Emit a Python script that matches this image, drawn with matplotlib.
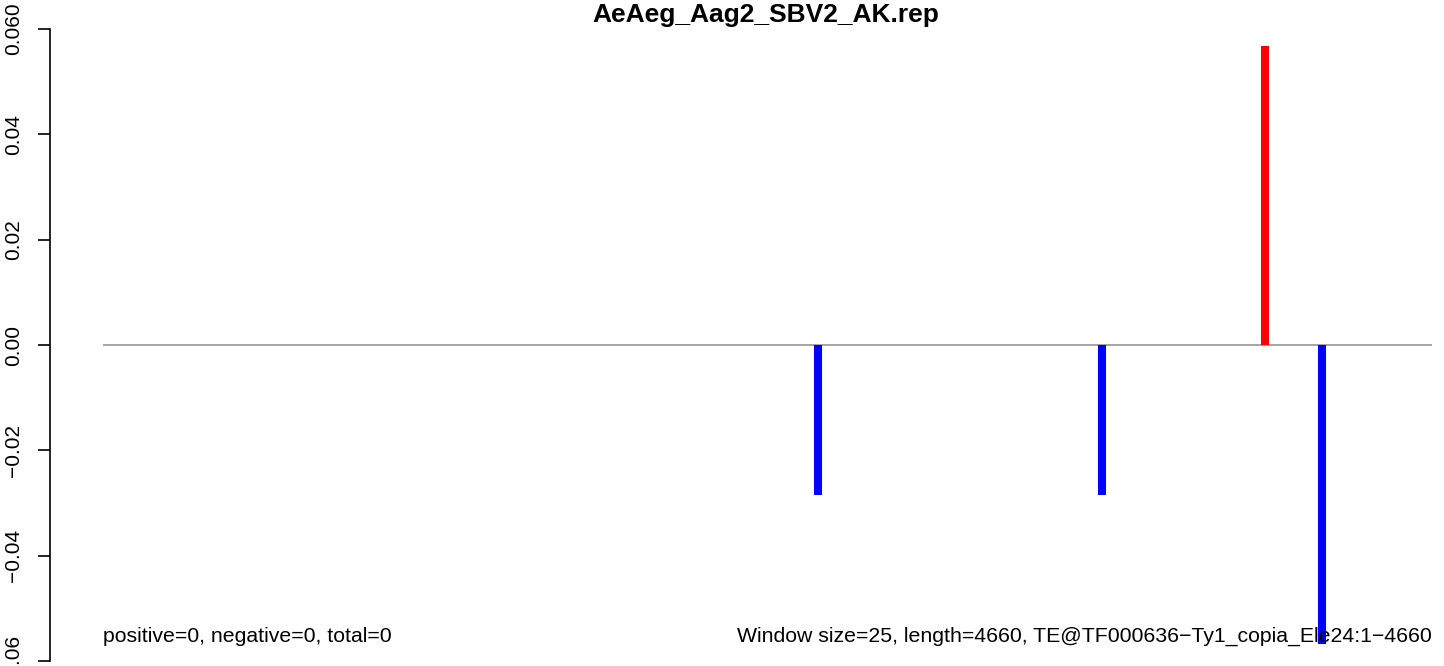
import matplotlib
matplotlib.use('Agg')
import matplotlib.pyplot as plt

plt.rcParams['font.family'] = ['Liberation Sans', 'DejaVu Sans']

# data
title = 'AeAeg_Aag2_SBV2_AK.rep'
te_length = 4660
positions = [2507, 3503, 4074, 4274]
values = [-0.0285, -0.0285, 0.0567, -0.0567]
yticks = [-0.06, -0.04, -0.02, 0.0, 0.02, 0.04, 0.06]
ytick_labels = ['\u22120.06', '\u22120.04', '\u22120.02', '0.00', '0.02', '0.04', '0.060']
left_note = 'positive=0, negative=0, total=0'
right_note = 'Window size=25, length=4660, TE@TF000636\u2212Ty1_copia_Ele24:1\u22124660'

W, H = 1444, 666
fig = plt.figure(figsize=(W / 100, H / 100), dpi=100)
ax = fig.add_axes([50 / W, 5 / H, (W - 50) / W, 632 / H])

colors = ['red' if v > 0 else 'blue' for v in values]
ax.hlines(0, 0, te_length, colors='#8c8c8c', linewidth=1.1)
ax.vlines(positions, 0, values, colors=colors, linewidth=5.8)

ax.set_xlim(-186.4, 4702)
ax.set_ylim(-0.06, 0.06)

for s in ['top', 'right', 'bottom']:
    ax.spines[s].set_visible(False)
ax.spines['left'].set_linewidth(1.2)
ax.set_xticks([])
ax.set_yticks(yticks)
ax.set_yticklabels(ytick_labels, rotation=90, va='center')
ax.tick_params(axis='y', length=8.6, width=1.2, pad=11, labelsize=15)

ax.text(0, -0.0553, left_note, ha='left', va='center', fontsize=15.3)
ax.text(te_length, -0.0553, right_note, ha='right', va='center', fontsize=15.3)

fig.text(766 / W, 1 - 15 / H, title, ha='center', va='center',
         fontsize=19, fontweight='bold')

fig.savefig('out.png', dpi=100)
